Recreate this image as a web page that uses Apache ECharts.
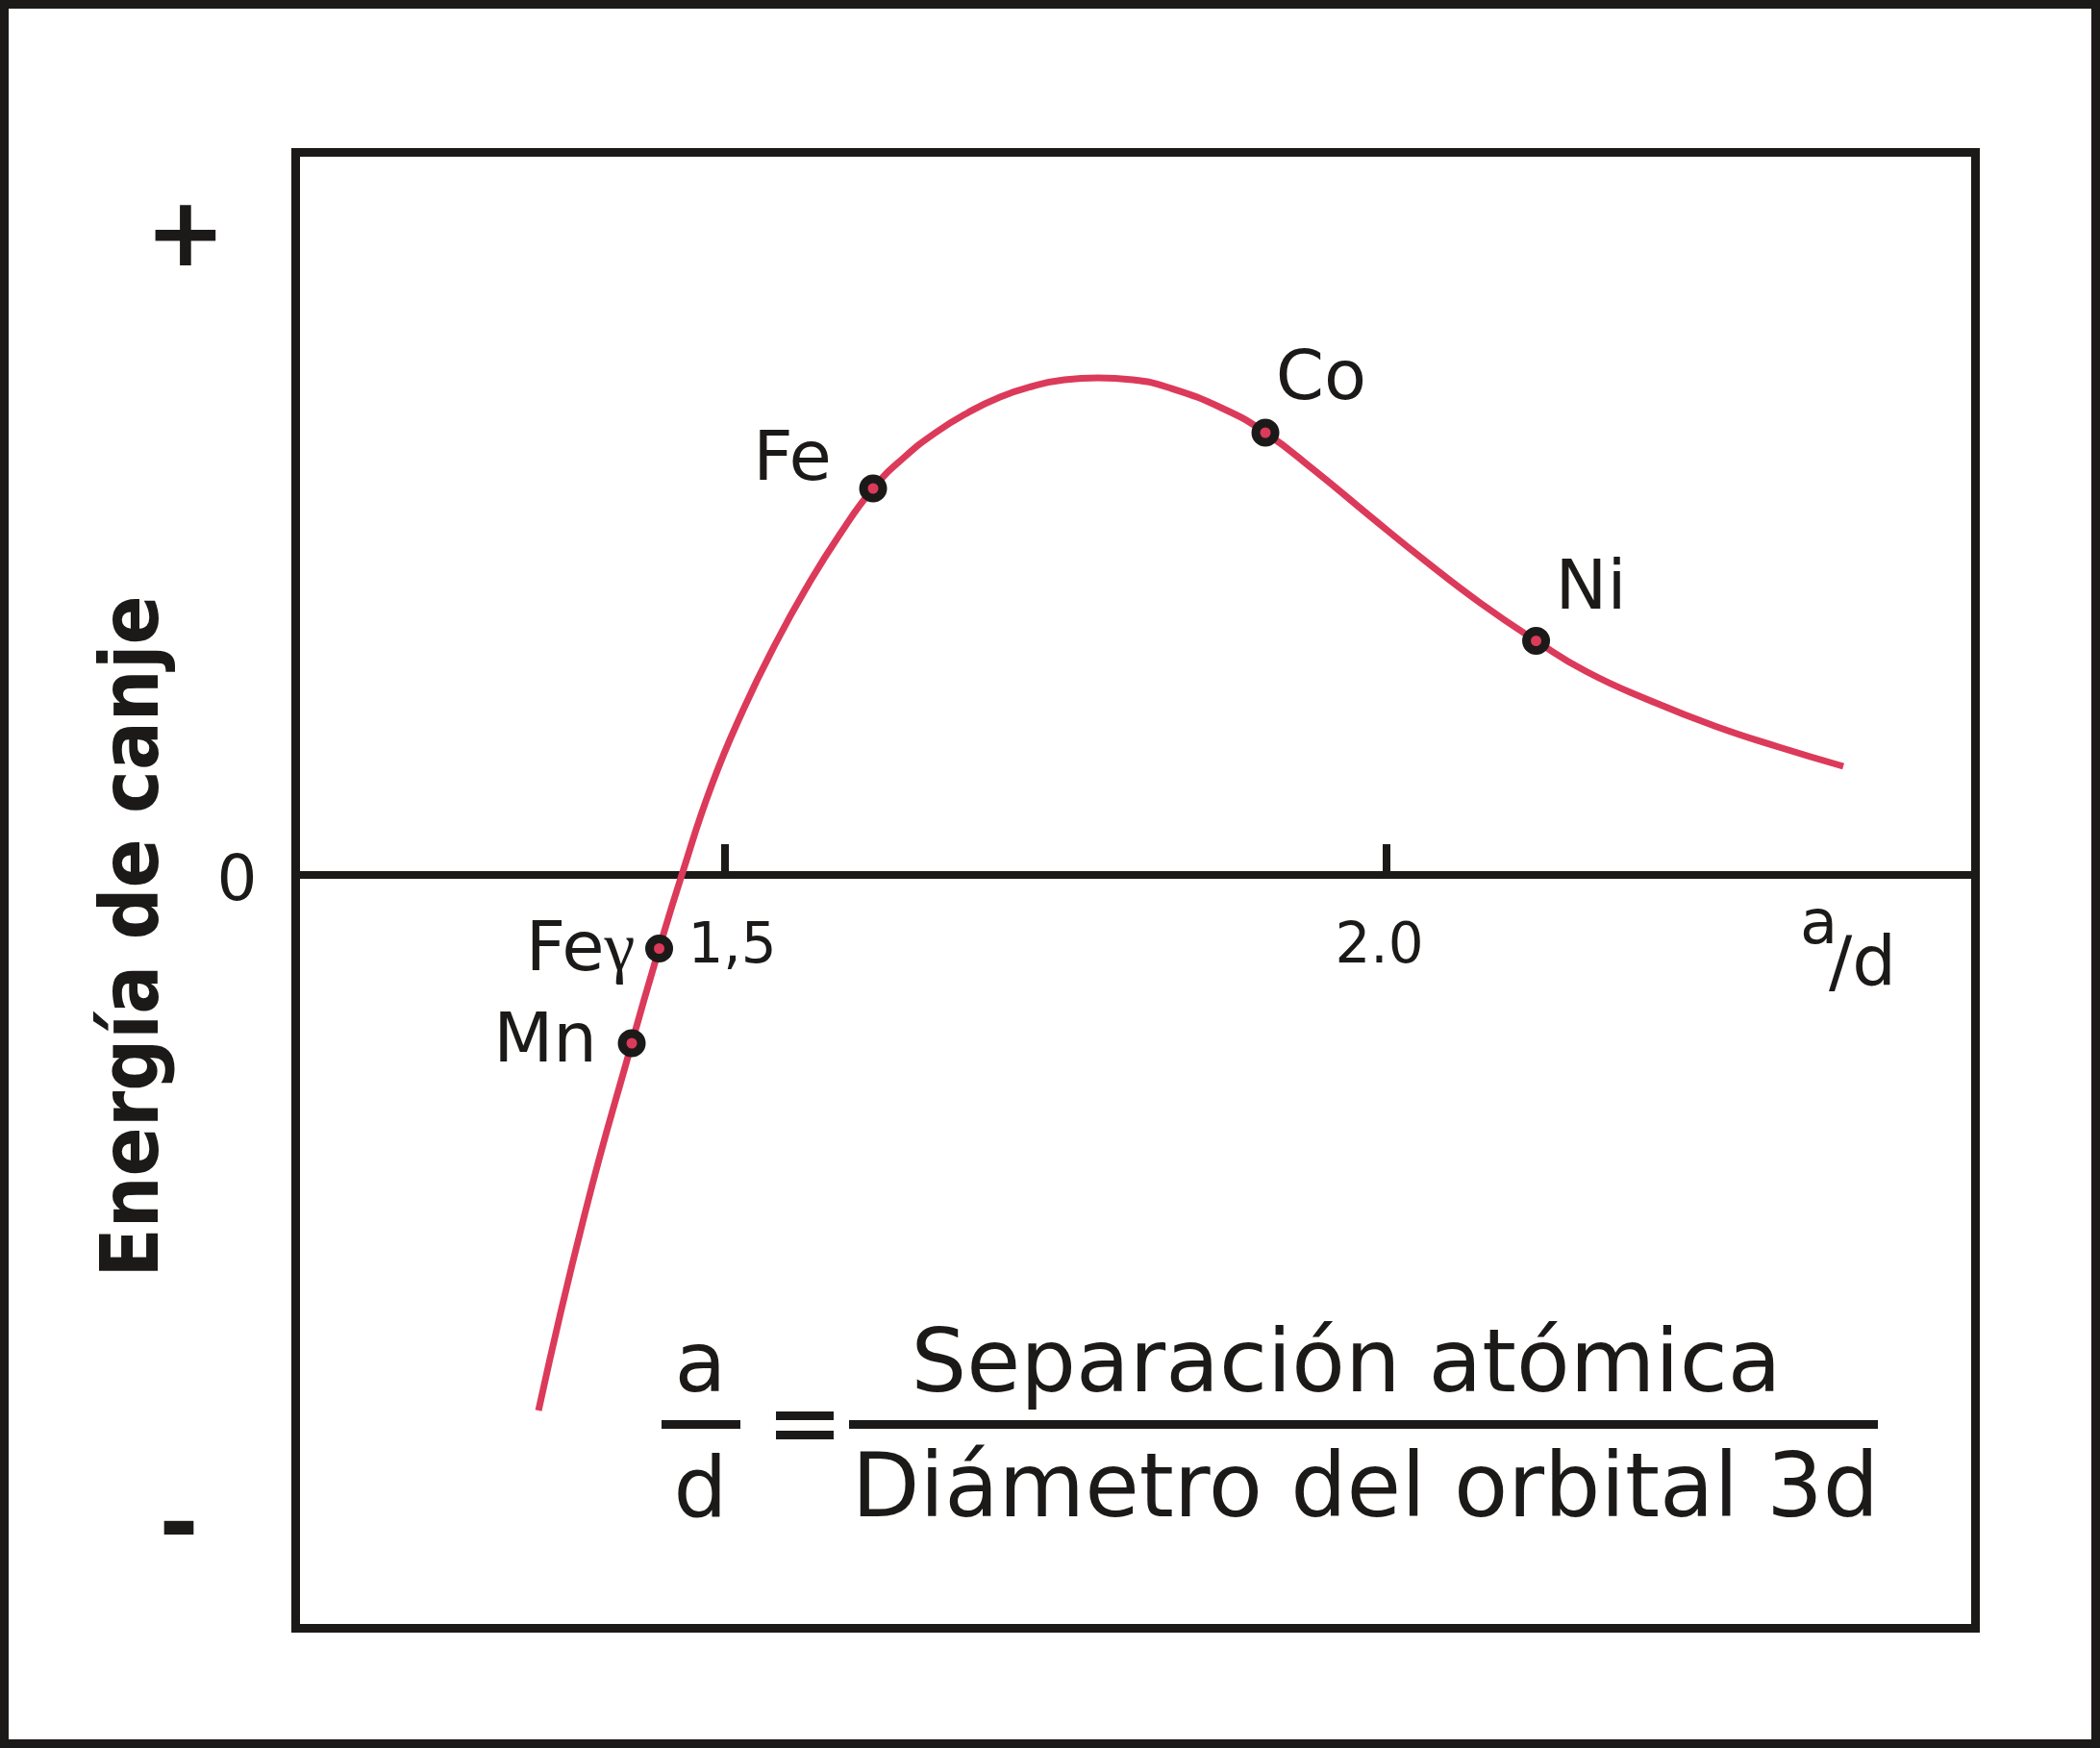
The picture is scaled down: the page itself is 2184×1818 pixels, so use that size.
<!DOCTYPE html>
<html><head><meta charset="utf-8">
<script src="https://cdn.jsdelivr.net/npm/echarts@6/dist/echarts.min.js"></script>
<style>html,body{margin:0;padding:0;background:#fff}#c{width:2184px;height:1818px}</style>
</head><body><div id="c"></div>
<script>
// ---- data ----
const curveX = [1.3594, 1.3943, 1.4299, 1.4506, 1.4677, 1.4902, 1.5142, 1.5389, 1.5629, 1.5868, 1.6123, 1.6355, 1.6595, 1.6842, 1.7082, 1.7322, 1.7569, 1.7823, 1.8085, 1.8354, 1.8768, 1.9088, 1.9466, 1.9880, 2.0302, 2.0716, 2.1134, 2.1515, 2.2002, 2.2482, 2.2969, 2.3456];
const curveY = [-5.57, -3.53, -1.75, -0.765, 0, 0.93, 1.72, 2.415, 3.01, 3.535, 4.02, 4.34, 4.60, 4.81, 4.97, 5.08, 5.15, 5.17, 5.15, 5.07, 4.85, 4.60, 4.20, 3.73, 3.26, 2.825, 2.435, 2.115, 1.81, 1.55, 1.33, 1.13];
const elementNames = ['Mn', 'Feγ', 'Fe', 'Co', 'Ni'];
const elementX = [1.4299, 1.4506, 1.6123, 1.9088, 2.1134];
const elementY = [-1.75, -0.765, 4.02, 4.60, 2.435];
const xTickValues = [1.5, 2.0];
const xTickLabels = ['1,5', '2.0'];
const yTickValues = [0];
const yTickLabels = ['0'];
const yAxisTitle = 'Energía de canje';
const xAxisSymbolNum = 'a';
const xAxisSymbolDen = '/d';
const plusLabel = '+';
const minusLabel = '-';
const eqNum = 'Separación atómica';
const eqDen = 'Diámetro del orbital 3d';

// ---- layout / style ----
const labelOffsets = [[-90, 0], [-82, 4], [-84, -28], [58, -54], [57, -52]];
const xLabelStyles = ['l', 'r'];
const INK = '#1c1a19';
const RED = '#dc3a5a';
const FONT = '"DejaVu Sans", Verdana, sans-serif';
const X_MIN = 1.17587, X_MAX = 2.44549;
const Y_MIN = -7.835, Y_MAX = 7.515;
const GRID_TOP = 158.5, GRID_H = 1535;
const ZERO_OFFSET = -(GRID_TOP + GRID_H - (GRID_TOP + GRID_H * (Y_MAX / (Y_MAX - Y_MIN))));

const chart = echarts.init(document.getElementById('c'), null, {renderer: 'canvas'});

function txt(text, x, y, size, opts) {
  opts = opts || {};
  return {
    type: 'text', x: x, y: y, rotation: opts.rotation || 0, z: 10,
    style: {
      text: text, fill: INK, fontSize: size, fontFamily: opts.family || FONT,
      fontWeight: opts.weight || 'normal',
      align: opts.align || 'center', verticalAlign: opts.valign || 'middle'
    }
  };
}
function bar(x, y, w, h) {
  return {type: 'rect', z: 10, shape: {x: x, y: y, width: w, height: h}, style: {fill: INK}};
}

const option = {
  animation: false,
  backgroundColor: '#ffffff',
  grid: {left: 307.5, top: GRID_TOP, width: 1747, height: GRID_H, show: true, borderColor: INK, borderWidth: 9, backgroundColor: 'transparent'},
  xAxis: {
    type: 'value', min: X_MIN, max: X_MAX, position: 'bottom', offset: ZERO_OFFSET,
    axisLine: {onZero: false, lineStyle: {color: INK, width: 8}},
    axisTick: {show: true, inside: true, length: 32, lineStyle: {color: INK, width: 8}, customValues: xTickValues},
    axisLabel: {
      customValues: xTickValues, fontSize: 58, fontFamily: FONT, color: INK, margin: 47,
      formatter: function (v) {
        const i = xTickValues.findIndex(t => Math.abs(t - v) < 1e-9);
        return i >= 0 ? '{' + xLabelStyles[i] + '|' + xTickLabels[i] + '}' : '';
      },
      rich: {
        l: {fontSize: 58, fontFamily: FONT, color: INK, padding: [0, 0, 0, 16]},
        r: {fontSize: 58, fontFamily: FONT, color: INK, padding: [0, 14, 0, 0]}
      }
    },
    splitLine: {show: false}
  },
  yAxis: {
    type: 'value', min: Y_MIN, max: Y_MAX,
    axisLine: {show: false}, axisTick: {show: false}, splitLine: {show: false},
    axisLabel: {
      customValues: yTickValues, fontSize: 66, fontFamily: FONT, color: INK, margin: 40,
      formatter: function (v) { const i = yTickValues.findIndex(t => Math.abs(t - v) < 1e-9); return i >= 0 ? '{z|' + yTickLabels[i] + '}' : ''; },
      rich: {z: {fontSize: 66, fontFamily: FONT, color: INK, padding: [18, 0, 0, 0]}}
    }
  },
  series: [
    {
      type: 'line', z: 2,
      data: curveX.map((x, i) => [x, curveY[i]]),
      smooth: 0.5, showSymbol: false, silent: true,
      lineStyle: {color: RED, width: 7}
    },
    {
      type: 'scatter', z: 3, silent: true,
      data: elementNames.map((n, i) => ({name: n, value: [elementX[i], elementY[i]], label: {offset: labelOffsets[i]}})),
      symbol: 'circle', symbolSize: 20,
      itemStyle: {color: RED, borderColor: INK, borderWidth: 9, opacity: 1},
      label: {
        show: true, position: 'inside', color: INK, fontSize: 72, fontFamily: FONT,
        formatter: function (p) { return p.name === 'Feγ' ? '{n|Fe}{g|γ}' : p.name; },
        rich: {
          n: {fontSize: 72, fontFamily: FONT, color: INK},
          g: {fontSize: 72, fontFamily: '"Liberation Serif", serif', color: INK}
        }
      }
    }
  ],
  graphic: [
    {type: 'rect', z: 10, shape: {x: 4.5, y: 4.5, width: 2175, height: 1809}, style: {fill: 'none', stroke: INK, lineWidth: 9}},
    txt(yAxisTitle, 142, 974, 84, {rotation: Math.PI / 2, weight: 'bold', family: '"DejaVu Sans Condensed", "DejaVu Sans", sans-serif'}),
    txt(plusLabel, 193, 250, 100, {weight: 'bold'}),
    txt(minusLabel, 186, 1592, 100, {weight: 'bold'}),
    txt(xAxisSymbolNum, 1872, 964, 64, {align: 'left'}),
    txt(xAxisSymbolDen, 1902, 1005, 72, {align: 'left'}),
    txt('a', 728.5, 1424, 88),
    txt('d', 728.5, 1554, 88),
    bar(688, 1477, 82, 9),
    bar(807, 1468, 60, 9),
    bar(807, 1488, 60, 9),
    bar(883, 1477, 1070, 9),
    txt(eqNum, 1400, 1423, 91),
    txt(eqDen, 1420, 1553, 92)
  ]
};
chart.setOption(option);
</script>
</body></html>
